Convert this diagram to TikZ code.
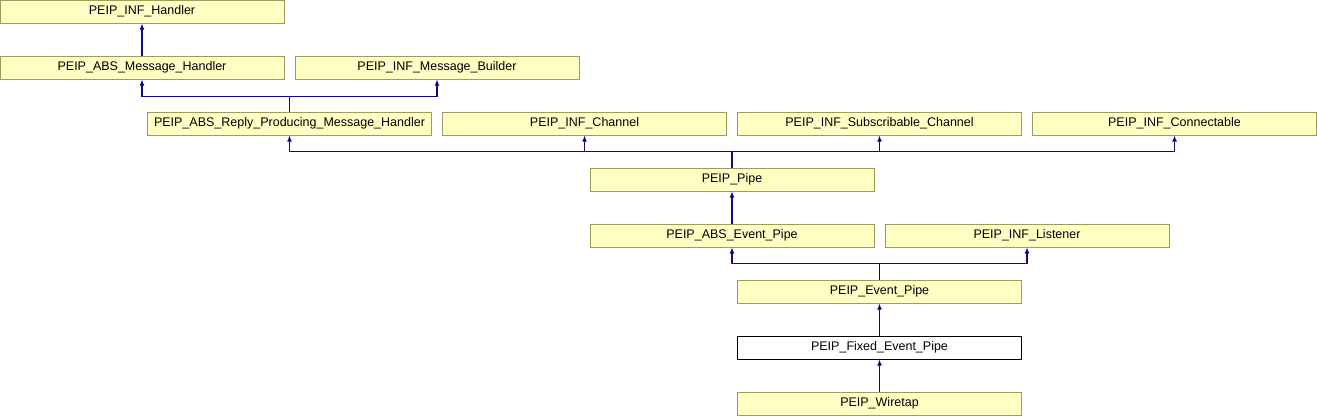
\documentclass[tikz,border=0pt]{standalone}
\usepackage{fontspec}
\setmainfont{Liberation Sans}
\usetikzlibrary{shapes, arrows.meta, positioning}
\definecolor{boxfill}{HTML}{FFFFC4}
\definecolor{boxline}{HTML}{9C9C5C}
\definecolor{edgeblue}{HTML}{0A0A8A}
\tikzstyle{block} = [draw=boxline, fill=boxfill, rectangle, line width=1pt, minimum width=284pt, minimum height=23pt, inner sep=0pt, font=\fontsize{12.5}{14}\selectfont]
\tikzstyle{current} = [block, draw=black, fill=white]
\tikzstyle{edge} = [draw=edgeblue, line width=1.2pt, -{Latex[length=6pt,width=5pt]}]

\begin{document}
\begin{tikzpicture}[auto,node distance=56pt,>=latex]
    \useasboundingbox (0,0) rectangle (1317pt,-416pt);
    \node[block] (infhandler) at (142pt,-11.5pt) {PEIP\_INF\_Handler};
    \node[block, below of=infhandler] (absmsg) {PEIP\_ABS\_Message\_Handler};
    \node[block, right of=absmsg, node distance=295pt] (msgbuilder) {PEIP\_INF\_Message\_Builder};
    \coordinate[right of=absmsg, node distance=147.5pt] (mid1);
    \node[block, below of=mid1] (reply) {PEIP\_ABS\_Reply\_Producing\_Message\_Handler};
    \node[block, right of=reply, node distance=295pt] (channel) {PEIP\_INF\_Channel};
    \node[block, right of=channel, node distance=295pt] (subchannel) {PEIP\_INF\_Subscribable\_Channel};
    \node[block, right of=subchannel, node distance=295pt] (connectable) {PEIP\_INF\_Connectable};
    \coordinate[right of=channel, node distance=147.5pt] (mid2);
    \node[block, below of=mid2] (pipe) {PEIP\_Pipe};
    \node[block, below of=pipe] (abseventpipe) {PEIP\_ABS\_Event\_Pipe};
    \node[block, right of=abseventpipe, node distance=295pt] (listener) {PEIP\_INF\_Listener};
    \coordinate[right of=abseventpipe, node distance=147.5pt] (mid3);
    \node[block, below of=mid3] (eventpipe) {PEIP\_Event\_Pipe};
    \node[current, below of=eventpipe] (fixedpipe) {PEIP\_Fixed\_Event\_Pipe};
    \node[block, below of=fixedpipe] (wiretap) {PEIP\_Wiretap};
    \draw[edge] (absmsg) -- (infhandler);
    \draw[edge] (reply.north) -- ++(0,15pt) -| (absmsg);
    \draw[edge] (reply.north) -- ++(0,15pt) -| (msgbuilder);
    \draw[edge] (pipe.north) -- ++(0,16pt) -| (reply);
    \draw[edge] (pipe.north) -- ++(0,16pt) -| (channel);
    \draw[edge] (pipe.north) -- ++(0,16pt) -| (subchannel);
    \draw[edge] (pipe.north) -- ++(0,16pt) -| (connectable);
    \draw[edge] (abseventpipe) -- (pipe);
    \draw[edge] (eventpipe.north) -- ++(0,16pt) -| (abseventpipe);
    \draw[edge] (eventpipe.north) -- ++(0,16pt) -| (listener);
    \draw[edge] (fixedpipe) -- (eventpipe);
    \draw[edge] (wiretap) -- (fixedpipe);
\end{tikzpicture}
\end{document}
